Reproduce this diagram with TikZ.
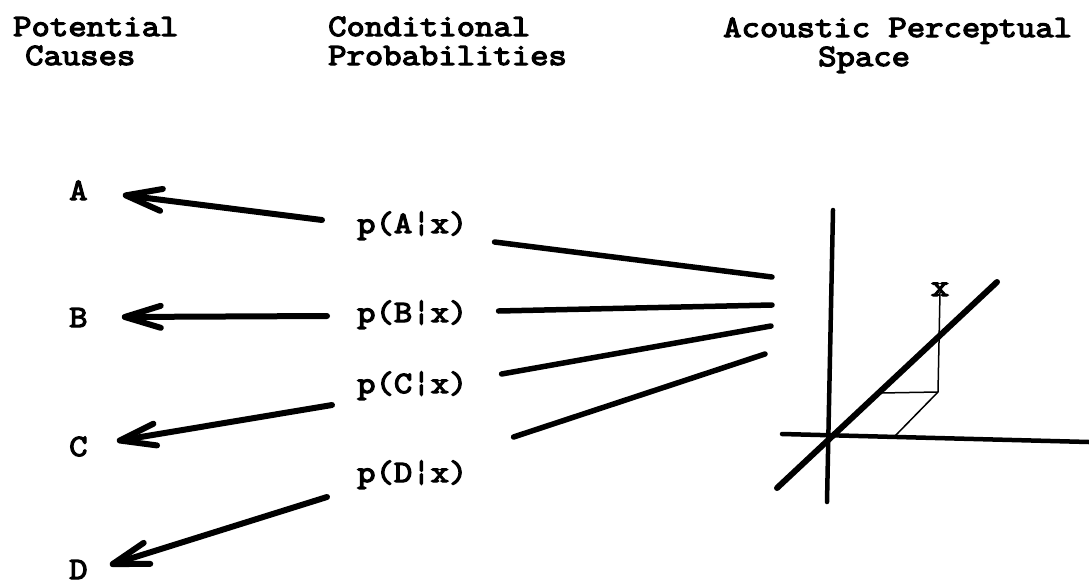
\documentclass[tikz,border=0pt]{standalone}
\usepackage{fontspec}
\newfontfamily\courfont{Latin Modern Mono}[FakeBold=4, FakeStretch=1.15]
\usetikzlibrary{arrows.meta,calc}
\begin{document}
\begin{tikzpicture}[x=1pt,y=-1pt,
  txt/.style={font=\courfont\fontsize{31}{31}\selectfont, inner sep=0pt, anchor=base west},
  causearrow/.style={line width=6pt, line cap=round, line join=round,
     -{Straight Barb[length=36pt,width=22pt,line width=6pt,round]}},
  fanline/.style={line width=5.5pt, line cap=round},
  axis/.style={line width=4.5pt, line cap=round},
  diag/.style={line width=6pt, line cap=round},
  thin/.style={line width=1.5pt}]
\useasboundingbox (0,0) rectangle (1089,584);
% headings
\node[txt] (h1a) at (13,36) {Potential};
\node[txt] (h1b) at (25,65) {Causes};
\node[txt] (h2a) at (328,36) {Conditional};
\node[txt] (h2b) at (328,65) {Probabilities};
\node[txt] (h3a) at (723,37) {Acoustic Perceptual};
\node[txt] (h3b) at (818,66) {Space};
% causes
\node[txt] (A) at (69,200) {A};
\node[txt] (B) at (69,327) {B};
\node[txt] (C) at (69,456) {C};
\node[txt] (D) at (69,579) {D};
% probabilities
\node[txt] (pA) at (357,233) {p(A¦x)};
\node[txt] (pB) at (357,322) {p(B¦x)};
\node[txt] (pC) at (357,393) {p(C¦x)};
\node[txt] (pD) at (357,482) {p(D¦x)};
% arrows to causes
\draw[causearrow] ([shift={(-35,-13)}]pA.base west) -- ([shift={(35,-5)}]A.base east);
\draw[causearrow] ([shift={(-30,-6)}]pB.base west) -- ([shift={(34,-10)}]B.base east);
\draw[causearrow] ([shift={(-25,12)}]pC.base west) -- ([shift={(29,-15)}]C.base east);
\draw[causearrow] ([shift={(-30,15)}]pD.base west) -- ([shift={(22,-14)}]D.base east);
% fan lines towards the space
\coordinate (e1) at (772,277);
\coordinate (e2) at (772,305);
\coordinate (e3) at (771,326);
\coordinate (e4) at (765,354);
\draw[fanline] ([shift={(27,9)}]pA.base east) -- (e1);
\draw[fanline] ([shift={(31,-11)}]pB.base east) -- (e2);
\draw[fanline] ([shift={(34,-19)}]pC.base east) -- (e3);
\draw[fanline] ([shift={(46,44)}]pC.base east) -- (e4);
% axes
\coordinate (vt) at (833,210);
\coordinate (vb) at (827,502);
\coordinate (hl) at (782,434);
\coordinate (hr) at (1089,442);
\coordinate (dl) at (777,488);
\coordinate (dr) at (997,282);
\draw[axis] (vt) -- (vb);
\draw[axis] (hl) -- (hr);
\draw[diag] (dl) -- (dr);
% point x and its projection
\node[txt, anchor=base] (xlab) at (940,296) {x};
\coordinate (P) at (938,392);
\coordinate (Pd) at (880,393);
\coordinate (Ph) at (895,436);
\draw[thin] ([yshift=4pt]xlab.south) -- (P);
\draw[thin] (P) -- (Pd);
\draw[thin] (P) -- (Ph);
\end{tikzpicture}
\end{document}
